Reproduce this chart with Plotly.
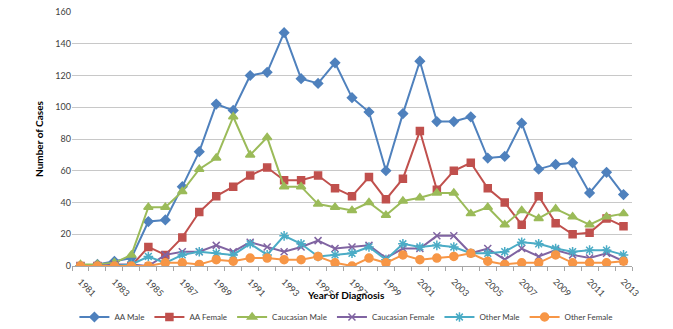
import plotly.graph_objects as go

years = list(range(1981, 2014))

aa_male = [0, 1, 3, 5, 28, 29, 50, 72, 102, 98, 120, 122, 147, 118, 115, 128, 106, 97, 60, 96,
           129, 91, 91, 94, 68, 69, 90, 61, 64, 65, 46, 59, 45]
aa_female = [0, 0, 0, 0, 12, 7, 18, 34, 44, 50, 57, 62, 54, 54, 57, 49, 44, 56, 42, 55,
             85, 48, 60, 65, 49, 40, 26, 44, 27, 20, 21, 30, 25]
cauc_male = [1, 1, 2, 7, 37, 37, 47, 61, 68, 94, 70, 81, 50, 50, 39, 37, 35, 40, 32, 41,
             43, 46, 46, 33, 37, 26, 35, 30, 36, 31, 26, 31, 33]
cauc_female = [0, 0, 1, 1, 0, 7, 9, 9, 13, 9, 15, 12, 9, 12, 16, 11, 12, 13, 5, 11,
               11, 19, 19, 8, 11, 4, 11, 6, 10, 7, 5, 8, 3]
other_male = [0, 0, 0, 1, 6, 2, 7, 9, 8, 7, 14, 7, 19, 14, 6, 7, 8, 12, 4, 14,
              12, 13, 12, 8, 8, 9, 15, 14, 11, 9, 10, 10, 7]
other_female = [0, 0, 0, 0, 0, 2, 2, 1, 4, 3, 5, 5, 4, 4, 6, 2, 0, 5, 2, 7,
                4, 5, 6, 8, 3, 1, 2, 2, 7, 2, 2, 2, 3]

series = [
    ("AA Male", aa_male, "#4F81BD", "diamond", 7),
    ("AA Female", aa_female, "#C0504D", "square", 7),
    ("Caucasian Male", cauc_male, "#9BBB59", "triangle-up", 8),
    ("Caucasian Female", cauc_female, "#8064A2", "x-thin-open", 7),
    ("Other Male", other_male, "#4BACC6", "asterisk-open", 8),
    ("Other Female", other_female, "#F79646", "circle", 8),
]

fig = go.Figure()
for name, vals, color, sym, size in series:
    fig.add_trace(go.Scatter(
        x=years, y=vals, name=name, mode="lines+markers",
        line=dict(color=color, width=2),
        marker=dict(symbol=sym, size=size, color=color,
                    line=dict(color=color, width=1.5)),
    ))

font_family = "Lato, 'Open Sans', sans-serif"
fig.update_layout(
    width=673, height=329,
    margin=dict(l=72, r=41, t=6, b=63),
    paper_bgcolor="white", plot_bgcolor="white",
    font=dict(family=font_family, size=9, color="#404040"),
    showlegend=True,
    legend=dict(orientation="h", x=0.49, xanchor="center",
                yref="container", y=12 / 329, yanchor="middle",
                font=dict(size=8, color="#404040"), itemwidth=30, tracegroupgap=0),
    xaxis=dict(
        range=[1980.5, 2013.5], tickvals=years[::2], ticktext=[str(y) for y in years[::2]],
        tickangle=45, showgrid=False, zeroline=False, automargin=False,
        showline=True, linecolor="#A6A6A6", linewidth=1,
        ticks="outside", ticklen=0, ticklabelstandoff=6,
        tickfont=dict(size=9, color="#404040"),
        minor=dict(tick0=1980.5, dtick=1, ticks="outside", ticklen=4, tickcolor="#A6A6A6", showgrid=False),
    ),
    yaxis=dict(
        range=[0, 160], dtick=20, showgrid=True, gridcolor="#C8C8C8", gridwidth=1,
        zeroline=False, showline=False, ticks="", tickfont=dict(size=9, color="#404040"),
        title=dict(text="<b>Number of Cases</b>", font=dict(size=10, color="black"), standoff=9),
    ),
    annotations=[dict(
        text="<b>Year of Diagnosis</b>", xref="paper", yref="paper",
        x=0.49, y=-30 / 260, xanchor="center", yanchor="middle", showarrow=False,
        font=dict(size=10, color="black"),
    )],
)

fig.write_html("out.html")
